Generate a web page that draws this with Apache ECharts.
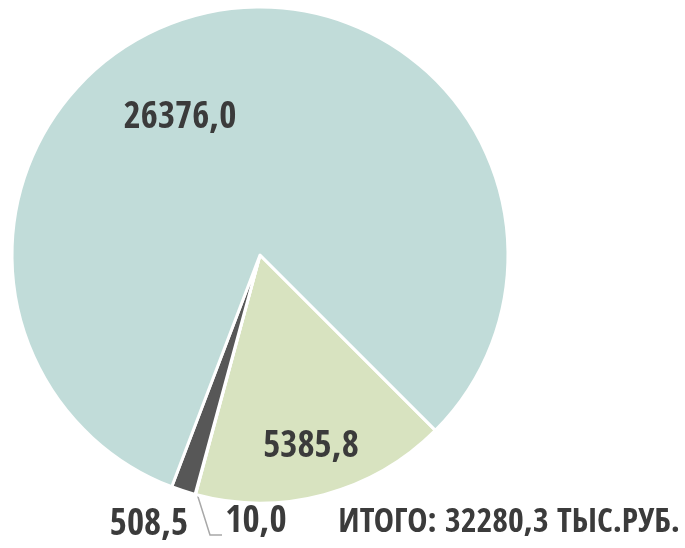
<!DOCTYPE html>
<html>
<head>
<meta charset="utf-8">
<script src="https://cdn.jsdelivr.net/npm/echarts@6/dist/echarts.min.js"></script>
<style>
  html, body { margin: 0; padding: 0; background: #fff; }
  #chart { width: 685px; height: 548px; }
</style>
</head>
<body>
<div id="chart"></div>
<script>
// data, in drawing order (clockwise from the lower right)
const names = ['b', 'd', 'c', 'a'];
const values = [5385.8, 10.0, 508.5, 26376.0];
const colors = ['#d8e3c0', '#5a5a5a', '#575757', '#c1dcd9'];
const totalPrefix = 'ИТОГО: ';
const totalSuffix = ' ТЫС.РУБ.';

const fmt = v => v.toFixed(1).replace('.', ',');
const total = values.reduce((s, v) => s + v, 0);
const font = '"Open Sans Condensed", Roboto, sans-serif';
const txt = '#3b3b3b';

// label anchors (index matches values)
const labelPos = [
  { x: 311, y: 447 },
  { x: 256, y: 522 },
  { x: 149, y: 525 },
  { x: 180, y: 118 }
];

const chart = echarts.init(document.getElementById('chart'));

chart.setOption({
  animation: false,
  series: [{
    type: 'pie',
    center: [260, 255],
    radius: [0, 248],
    startAngle: 315,
    clockwise: true,
    silent: true,
    label: {
      show: true,
      position: 'outside',
      overflow: 'none',
      formatter: p => fmt(p.value),
      fontFamily: font,
      fontWeight: 'bold',
      fontSize: 37,
      color: txt
    },
    labelLine: { show: false },
    itemStyle: { borderColor: '#fff', borderWidth: 3 },
    labelLayout: function (params) {
      const i = params.dataIndex;
      const res = { x: labelPos[i].x, y: labelPos[i].y, align: 'center', verticalAlign: 'middle' };
      if (i === 1 && params.labelLinePoints) {
        const p0 = params.labelLinePoints[0];
        res.labelLinePoints = [[p0[0] + 1, p0[1] - 3], [210, 535], [222, 535]];
      }
      return res;
    },
    data: values.map((v, i) => ({
      name: names[i],
      value: v,
      itemStyle: { color: colors[i] },
      labelLine: i === 1
        ? { show: true, length: 20, length2: 10, lineStyle: { color: '#a8a8a8', width: 1.5 } }
        : { show: false }
    }))
  }],
  graphic: [{
    type: 'text',
    right: 5,
    top: 506,
    style: {
      text: totalPrefix + fmt(total) + totalSuffix,
      font: 'bold 34px ' + font,
      fill: txt
    }
  }]
});
</script>
</body>
</html>
